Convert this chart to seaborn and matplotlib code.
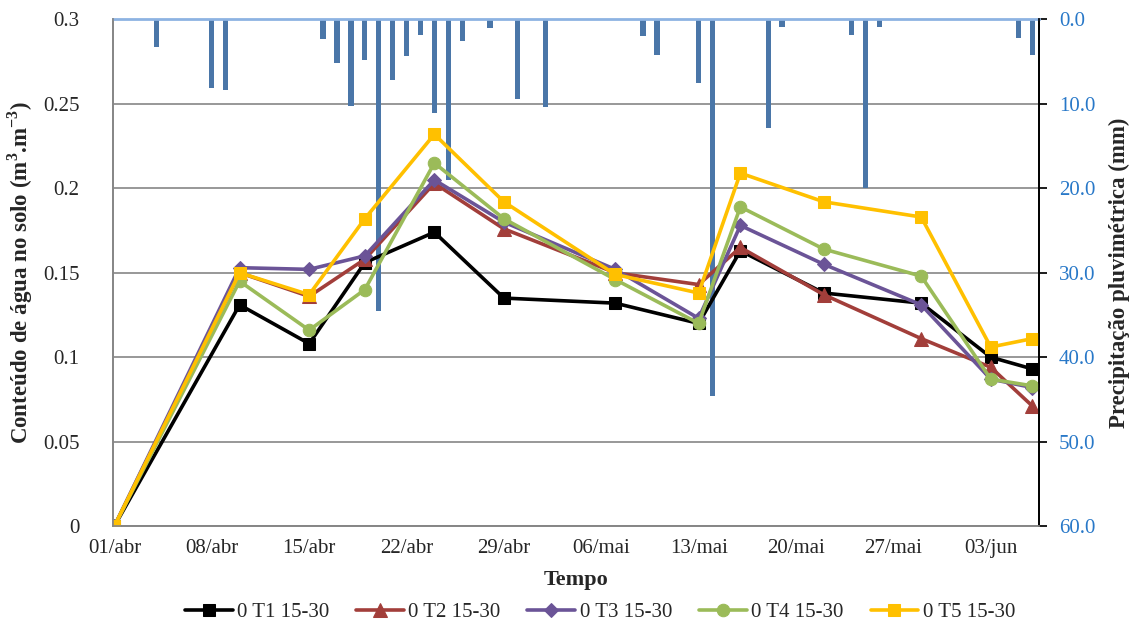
import matplotlib
matplotlib.use("Agg")
import matplotlib.pyplot as plt
import seaborn as sns

# dias desde 01/abr
days = [0, 9, 14, 18, 23, 28, 36, 42, 45, 51, 58, 63, 66]
t1 = [0, 0.131, 0.108, 0.156, 0.174, 0.135, 0.132, 0.120, 0.163, 0.138, 0.132, 0.100, 0.093]
t2 = [0, 0.150, 0.136, 0.158, 0.203, 0.176, 0.150, 0.143, 0.165, 0.137, 0.111, 0.094, 0.071]
t3 = [0, 0.153, 0.152, 0.160, 0.205, 0.180, 0.152, 0.123, 0.178, 0.155, 0.131, 0.087, 0.082]
t4 = [0, 0.145, 0.116, 0.140, 0.215, 0.182, 0.146, 0.120, 0.189, 0.164, 0.148, 0.087, 0.083]
t5 = [0, 0.150, 0.137, 0.182, 0.232, 0.192, 0.149, 0.138, 0.209, 0.192, 0.183, 0.106, 0.111]

rain_days = [3, 7, 8, 15, 16, 17, 18, 19, 20, 21, 22, 23, 24, 25, 27, 29, 31,
             38, 39, 42, 43, 47, 48, 53, 54, 55, 65, 66]
rain_mm = [3.3, 8.1, 8.3, 2.3, 5.1, 10.3, 4.8, 34.5, 7.2, 4.3, 1.8, 11.1, 19.0, 2.5, 1.0, 9.4, 10.4,
           1.9, 4.2, 7.5, 44.6, 12.8, 0.9, 1.8, 20.0, 0.9, 2.2, 4.2]

tick_days = [0, 7, 14, 21, 28, 35, 42, 49, 56, 63]
tick_labels = ["01/abr", "08/abr", "15/abr", "22/abr", "29/abr",
               "06/mai", "13/mai", "20/mai", "27/mai", "03/jun"]

series = [("0 T1 15-30", t1, "#000000", "s", 9),
          ("0 T2 15-30", t2, "#A23E3A", "^", 10),
          ("0 T3 15-30", t3, "#6B5497", "D", 7),
          ("0 T4 15-30", t4, "#9BBB59", "o", 9),
          ("0 T5 15-30", t5, "#FFC000", "s", 9)]

sns.set_theme(style="white")
plt.rcParams['font.family'] = ['Liberation Serif', 'DejaVu Serif']
plt.rcParams['mathtext.fontset'] = 'custom'
plt.rcParams['mathtext.rm'] = 'Liberation Serif'
plt.rcParams['mathtext.bf'] = 'Liberation Serif:bold'

fig = plt.figure(figsize=(11.36, 6.22), dpi=100)
ax = fig.add_axes([0.0995, 0.1543, 0.8155, 0.8144])
ax2 = ax.twinx()

# chuva (eixo secundário invertido)
sns.barplot(x=rain_days, y=rain_mm, ax=ax2, native_scale=True, width=0.38,
            color="#4A76A8", saturation=1, errorbar=None, linewidth=0)
ax2.set_ylim(60, 0)
ax2.set_yticks(range(0, 61, 10))
ax2.set_yticklabels([f"{v:.1f}" for v in range(0, 61, 10)], fontsize=15, color="#2878C8")
ax2.yaxis.grid(True, color="#868686", linewidth=1.2)
ax2.set_axisbelow(True)
ax2.tick_params(axis="y", direction="out", length=6, color="black", pad=8)
ax2.set_ylabel("Precipitação pluvimétrica (mm)", fontsize=16.5, fontweight="bold", labelpad=10)

# umidade
for name, vals, col, mk, ms in series:
    sns.lineplot(x=days, y=vals, ax=ax, color=col, marker=mk, markersize=ms,
                 markeredgecolor=col, linewidth=2.6, label=name)

ax.set_zorder(ax2.get_zorder() + 1)
ax.patch.set_visible(False)

ax.set_ylim(0, 0.3)
yt = [0, 0.05, 0.1, 0.15, 0.2, 0.25, 0.3]
ax.set_yticks(yt)
ax.set_yticklabels([f"{v:g}" for v in yt], fontsize=15)
ax.set_xlim(-0.1, 66.5)
ax.set_xticks(tick_days)
ax.set_xticklabels(tick_labels, fontsize=15)
ax.set_xticks(range(0, 67), minor=True)
ax.tick_params(axis="x", which="both", direction="in", length=3, color="#868686", pad=9)
ax.tick_params(axis="y", length=0, pad=24)
ax.grid(False)
ax.set_xlabel("Tempo", fontsize=16, fontweight="bold", labelpad=9)
ax.set_ylabel(r"Conteúdo de água no solo (m$^{\mathbf{3}}$.m$^{\mathbf{-3}}$)", fontsize=16.5,
              fontweight="bold", labelpad=6)

for a in (ax, ax2):
    a.spines["left"].set_color("#868686")
    a.spines["bottom"].set_color("#868686")
    a.spines["right"].set_color("black")
    a.spines["top"].set_visible(False)
ax2.spines["top"].set_visible(True)
ax2.spines["top"].set_color("#8DB3E2")
ax2.spines["top"].set_linewidth(2)

handles, labels = ax.get_legend_handles_labels()
ax.legend_.remove()
fig.legend(handles, labels, loc="lower center", bbox_to_anchor=(0.528, -0.03), ncol=5,
           frameon=False, fontsize=15, handlelength=2.3, columnspacing=1.3, handletextpad=0.2)

fig.savefig("out.png", dpi=100)
